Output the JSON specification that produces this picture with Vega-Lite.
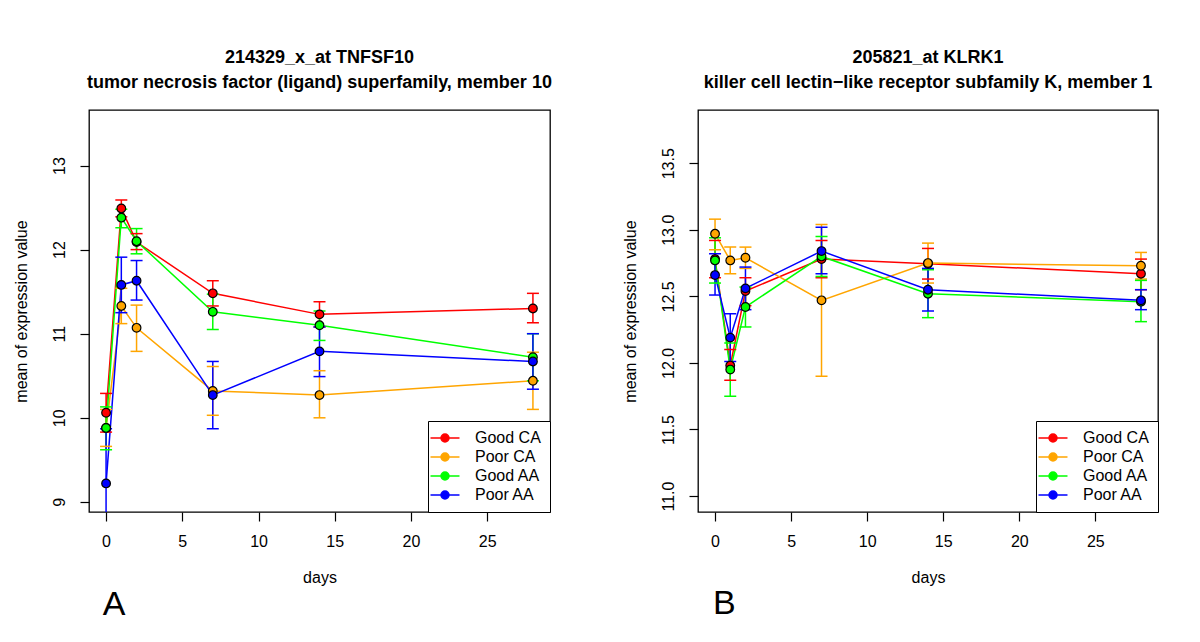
{
  "$schema": "https://vega.github.io/schema/vega-lite/v6.json",
  "background": "white",
  "padding": {"left": 12, "top": 48, "right": 0, "bottom": 0},
  "spacing": 68,
  "datasets": {
    "left": [
      {"group": "Good CA", "day": 0, "mean": 10.06, "lo": 9.83, "hi": 10.29},
      {"group": "Good CA", "day": 1, "mean": 12.49, "lo": 12.39, "hi": 12.59},
      {"group": "Good CA", "day": 2, "mean": 12.09, "lo": 12.0, "hi": 12.19},
      {"group": "Good CA", "day": 7, "mean": 11.48, "lo": 11.33, "hi": 11.63},
      {"group": "Good CA", "day": 14, "mean": 11.23, "lo": 11.08, "hi": 11.38},
      {"group": "Good CA", "day": 28, "mean": 11.3, "lo": 11.13, "hi": 11.48},
      {"group": "Poor CA", "day": 0, "mean": 9.88, "lo": 9.66, "hi": 10.1},
      {"group": "Poor CA", "day": 1, "mean": 11.33, "lo": 11.12, "hi": 11.54},
      {"group": "Poor CA", "day": 2, "mean": 11.07, "lo": 10.79, "hi": 11.34},
      {"group": "Poor CA", "day": 7, "mean": 10.32, "lo": 10.03, "hi": 10.61},
      {"group": "Poor CA", "day": 14, "mean": 10.27, "lo": 10.0, "hi": 10.56},
      {"group": "Poor CA", "day": 28, "mean": 10.44, "lo": 10.1, "hi": 10.78},
      {"group": "Good AA", "day": 0, "mean": 9.88, "lo": 9.62, "hi": 10.13},
      {"group": "Good AA", "day": 1, "mean": 12.38, "lo": 12.26, "hi": 12.48},
      {"group": "Good AA", "day": 2, "mean": 12.1, "lo": 11.95, "hi": 12.25},
      {"group": "Good AA", "day": 7, "mean": 11.26, "lo": 11.05, "hi": 11.47},
      {"group": "Good AA", "day": 14, "mean": 11.1, "lo": 10.92, "hi": 11.27},
      {"group": "Good AA", "day": 28, "mean": 10.72, "lo": 10.44, "hi": 11.0},
      {"group": "Poor AA", "day": 0, "mean": 9.22, "lo": 8.57, "hi": 9.87},
      {"group": "Poor AA", "day": 1, "mean": 11.58, "lo": 11.25, "hi": 11.91},
      {"group": "Poor AA", "day": 2, "mean": 11.63, "lo": 11.4, "hi": 11.87},
      {"group": "Poor AA", "day": 7, "mean": 10.27, "lo": 9.87, "hi": 10.67},
      {"group": "Poor AA", "day": 14, "mean": 10.79, "lo": 10.49, "hi": 11.08},
      {"group": "Poor AA", "day": 28, "mean": 10.67, "lo": 10.34, "hi": 11.0}
    ],
    "right": [
      {"group": "Good CA", "day": 0, "mean": 12.78, "lo": 12.64, "hi": 12.92},
      {"group": "Good CA", "day": 1, "mean": 11.98, "lo": 11.87, "hi": 12.1},
      {"group": "Good CA", "day": 2, "mean": 12.54, "lo": 12.43, "hi": 12.64},
      {"group": "Good CA", "day": 7, "mean": 12.78, "lo": 12.64, "hi": 12.92},
      {"group": "Good CA", "day": 14, "mean": 12.745, "lo": 12.63, "hi": 12.86},
      {"group": "Good CA", "day": 28, "mean": 12.67, "lo": 12.55, "hi": 12.78},
      {"group": "Poor CA", "day": 0, "mean": 12.97, "lo": 12.85, "hi": 13.08},
      {"group": "Poor CA", "day": 1, "mean": 12.77, "lo": 12.67, "hi": 12.87},
      {"group": "Poor CA", "day": 2, "mean": 12.79, "lo": 12.71, "hi": 12.87},
      {"group": "Poor CA", "day": 7, "mean": 12.47, "lo": 11.9, "hi": 13.04},
      {"group": "Poor CA", "day": 14, "mean": 12.75, "lo": 12.6, "hi": 12.9},
      {"group": "Poor CA", "day": 28, "mean": 12.73, "lo": 12.63, "hi": 12.83},
      {"group": "Good AA", "day": 0, "mean": 12.77, "lo": 12.6, "hi": 12.94},
      {"group": "Good AA", "day": 1, "mean": 11.95, "lo": 11.75, "hi": 12.15},
      {"group": "Good AA", "day": 2, "mean": 12.42, "lo": 12.27, "hi": 12.57},
      {"group": "Good AA", "day": 7, "mean": 12.8, "lo": 12.65, "hi": 12.95},
      {"group": "Good AA", "day": 14, "mean": 12.52, "lo": 12.34, "hi": 12.7},
      {"group": "Good AA", "day": 28, "mean": 12.46, "lo": 12.31, "hi": 12.62},
      {"group": "Poor AA", "day": 0, "mean": 12.66, "lo": 12.51, "hi": 12.82},
      {"group": "Poor AA", "day": 1, "mean": 12.19, "lo": 12.01, "hi": 12.37},
      {"group": "Poor AA", "day": 2, "mean": 12.56, "lo": 12.4, "hi": 12.72},
      {"group": "Poor AA", "day": 7, "mean": 12.84, "lo": 12.67, "hi": 13.02},
      {"group": "Poor AA", "day": 14, "mean": 12.55, "lo": 12.39, "hi": 12.71},
      {"group": "Poor AA", "day": 28, "mean": 12.47, "lo": 12.4, "hi": 12.55}
    ]
  },
  "resolve": {"legend": {"color": "independent"}},
  "hconcat": [
    {
      "width": 461,
      "height": 402,
      "title": {"text": ["214329_x_at TNFSF10", "tumor necrosis factor (ligand) superfamily, member 10"]},
      "layer": [
        {
          "data": {"name": "left"},
          "mark": {"type": "line", "strokeWidth": 1.5, "clip": true},
          "encoding": {
            "x": {"field": "day", "type": "quantitative", "scale": {"domain": [-1.12, 29.12], "nice": false, "zero": false}, "axis": {"title": "days", "values": [0, 5, 10, 15, 20, 25]}},
            "y": {"field": "mean", "type": "quantitative", "scale": {"domain": [8.88, 13.66], "nice": false, "zero": false}, "axis": {"title": "mean of expression value", "values": [9, 10, 11, 12, 13], "format": "d"}},
            "color": {"field": "group", "type": "nominal", "scale": {"domain": ["Good CA", "Poor CA", "Good AA", "Poor AA"], "range": ["#FF0000", "#FFA500", "#00FF00", "#0000FF"]}, "legend": {"title": null}},
            "order": {"field": "day", "type": "quantitative"}
          }
        },
        {
          "data": {"name": "left"},
          "mark": {"type": "rule", "strokeWidth": 1.5, "clip": true},
          "encoding": {
            "x": {"field": "day", "type": "quantitative"},
            "y": {"field": "lo", "type": "quantitative"},
            "y2": {"field": "hi"},
            "color": {"field": "group", "type": "nominal", "legend": {"title": null}}
          }
        },
        {
          "data": {"name": "left"},
          "mark": {"type": "tick", "orient": "horizontal", "size": 12, "thickness": 1.5, "clip": true, "opacity": 1},
          "encoding": {
            "x": {"field": "day", "type": "quantitative"},
            "y": {"field": "lo", "type": "quantitative"},
            "color": {"field": "group", "type": "nominal", "legend": {"title": null}}
          }
        },
        {
          "data": {"name": "left"},
          "mark": {"type": "tick", "orient": "horizontal", "size": 12, "thickness": 1.5, "clip": true, "opacity": 1},
          "encoding": {
            "x": {"field": "day", "type": "quantitative"},
            "y": {"field": "hi", "type": "quantitative"},
            "color": {"field": "group", "type": "nominal", "legend": {"title": null}}
          }
        },
        {
          "data": {"name": "left"},
          "mark": {"type": "point", "filled": true, "size": 75, "stroke": "black", "strokeWidth": 1.2, "opacity": 1, "clip": true},
          "encoding": {
            "x": {"field": "day", "type": "quantitative"},
            "y": {"field": "mean", "type": "quantitative"},
            "color": {"field": "group", "type": "nominal", "legend": {"title": null}}
          }
        },
        {
          "data": {"values": [{"label": "A"}]},
          "mark": {"type": "text", "fontSize": 34, "align": "left", "baseline": "alphabetic", "color": "black"},
          "encoding": {
            "x": {"datum": -0.22, "type": "quantitative"},
            "y": {"datum": 7.65, "type": "quantitative"},
            "text": {"field": "label"}
          }
        }
      ]
    },
    {
      "width": 460,
      "height": 402,
      "title": {"text": ["205821_at KLRK1", "killer cell lectin\u2212like receptor subfamily K, member 1"]},
      "layer": [
        {
          "data": {"name": "right"},
          "mark": {"type": "line", "strokeWidth": 1.5, "clip": true},
          "encoding": {
            "x": {"field": "day", "type": "quantitative", "scale": {"domain": [-1.12, 29.12], "nice": false, "zero": false}, "axis": {"title": "days", "values": [0, 5, 10, 15, 20, 25]}},
            "y": {"field": "mean", "type": "quantitative", "scale": {"domain": [10.88, 13.9], "nice": false, "zero": false}, "axis": {"title": "mean of expression value", "values": [11, 11.5, 12, 12.5, 13, 13.5], "format": ".1f"}},
            "color": {"field": "group", "type": "nominal", "legend": {"title": null}},
            "order": {"field": "day", "type": "quantitative"}
          }
        },
        {
          "data": {"name": "right"},
          "mark": {"type": "rule", "strokeWidth": 1.5, "clip": true},
          "encoding": {
            "x": {"field": "day", "type": "quantitative"},
            "y": {"field": "lo", "type": "quantitative"},
            "y2": {"field": "hi"},
            "color": {"field": "group", "type": "nominal", "legend": {"title": null}}
          }
        },
        {
          "data": {"name": "right"},
          "mark": {"type": "tick", "orient": "horizontal", "size": 12, "thickness": 1.5, "clip": true, "opacity": 1},
          "encoding": {
            "x": {"field": "day", "type": "quantitative"},
            "y": {"field": "lo", "type": "quantitative"},
            "color": {"field": "group", "type": "nominal", "legend": {"title": null}}
          }
        },
        {
          "data": {"name": "right"},
          "mark": {"type": "tick", "orient": "horizontal", "size": 12, "thickness": 1.5, "clip": true, "opacity": 1},
          "encoding": {
            "x": {"field": "day", "type": "quantitative"},
            "y": {"field": "hi", "type": "quantitative"},
            "color": {"field": "group", "type": "nominal", "legend": {"title": null}}
          }
        },
        {
          "data": {"name": "right"},
          "mark": {"type": "point", "filled": true, "size": 75, "stroke": "black", "strokeWidth": 1.2, "opacity": 1, "clip": true},
          "encoding": {
            "x": {"field": "day", "type": "quantitative"},
            "y": {"field": "mean", "type": "quantitative"},
            "color": {"field": "group", "type": "nominal", "legend": {"title": null}}
          }
        },
        {
          "data": {"values": [{"label": "B"}]},
          "mark": {"type": "text", "fontSize": 34, "align": "left", "baseline": "alphabetic", "color": "black"},
          "encoding": {
            "x": {"datum": -0.13, "type": "quantitative"},
            "y": {"datum": 10.11, "type": "quantitative"},
            "text": {"field": "label"}
          }
        }
      ]
    }
  ],
  "config": {
    "font": "Liberation Sans",
    "view": {"stroke": "black", "strokeWidth": 1.3},
    "axis": {"grid": false, "domain": false, "tickColor": "black", "tickSize": 9, "tickWidth": 1.2, "labelFontSize": 16, "titleFontSize": 16, "labelColor": "black", "titleColor": "black", "titleFontWeight": "normal", "labelFont": "Liberation Sans", "titleFont": "Liberation Sans"},
    "axisX": {"labelPadding": 12, "titlePadding": 20},
    "axisY": {"labelAngle": -90, "labelAlign": "center", "labelBaseline": "alphabetic", "labelPadding": 16, "titlePadding": 22},
    "title": {"fontSize": 18, "fontWeight": "bold", "lineHeight": 25, "color": "black", "offset": 18, "font": "Liberation Sans"},
    "legend": {
      "orient": "bottom-right",
      "offset": 0,
      "strokeColor": "black",
      "fillColor": "white",
      "padding": 9,
      "labelFontSize": 16,
      "labelFont": "Liberation Sans",
      "labelColor": "black",
      "symbolType": "M-2.07,0H2.07M-0.57,0A0.57,0.57,0,1,1,0.57,0A0.57,0.57,0,1,1,-0.57,0Z",
      "symbolSize": 196,
      "symbolStrokeWidth": 1.5,
      "symbolOpacity": 1,
      "labelOffset": 22,
      "rowPadding": 3,
      "cornerRadius": 0
    }
  }
}
